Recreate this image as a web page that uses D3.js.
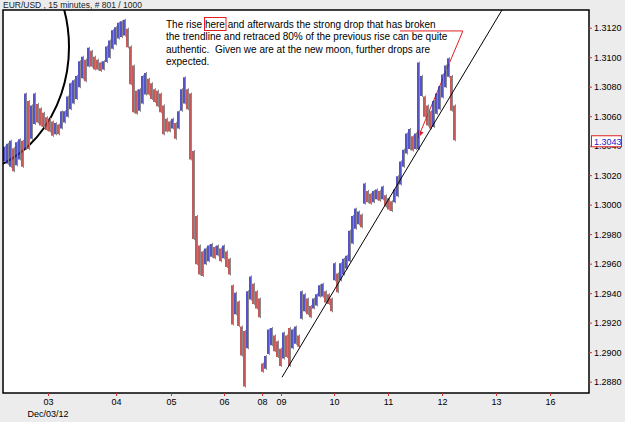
<!DOCTYPE html>
<html>
<head>
<meta charset="utf-8">
<script src="https://cdn.jsdelivr.net/npm/d3@7"></script>
<style>
body { margin: 0; background: #ececec; }
svg { display: block; font-family: "Liberation Sans", Arial, sans-serif; }
text { white-space: pre; }
</style>
</head>
<body>
<svg id="chart" width="625" height="422"></svg>
<script>
// EUR/USD 15 min, one slot = a handful of bars, high / low per slot
var hi = [1.3040, 1.3042, 1.3044, 1.3039, 1.3043, 1.3045, 1.3044, 1.3076, 1.3071, 1.3068,
          1.3076, 1.3069, 1.3066, 1.3063, 1.3060, 1.3059, 1.3057, 1.3056, 1.3055, 1.3064,
          1.3064, 1.3074, 1.3083, 1.3085, 1.3088, 1.3098, 1.3101, 1.3099, 1.3107, 1.3105,
          1.3101, 1.3099, 1.3097, 1.3098, 1.3108, 1.3112, 1.3119, 1.3121, 1.3124, 1.3125,
          1.3126, 1.3120, 1.3108, 1.3095, 1.3078, 1.3079, 1.3088, 1.3090, 1.3086, 1.3083,
          1.3079, 1.3078, 1.3076, 1.3068, 1.3059, 1.3057, 1.3059, 1.3056, 1.3064, 1.3079,
          1.3087, 1.3079, 1.3076, 1.3037, 1.2993, 1.2973, 1.2969, 1.2971, 1.2973, 1.2974,
          1.2972, 1.2973, 1.2971, 1.2973, 1.2969, 1.2964, 1.2946, 1.2941, 1.2935, 1.2918,
          1.2915, 1.2942, 1.2952, 1.2947, 1.2942, 1.2937, 1.2893, 1.2898, 1.2916, 1.2917,
          1.2912, 1.2908, 1.2903, 1.2914, 1.2912, 1.2917, 1.2916, 1.2918, 1.2912, 1.2942,
          1.2940, 1.2937, 1.2932, 1.2937, 1.2940, 1.2946, 1.2947, 1.2942, 1.2940, 1.2937,
          1.2961, 1.2954, 1.2961, 1.2964, 1.2966, 1.2983, 1.2993, 1.2998, 1.2996, 1.2994,
          1.3015, 1.3010, 1.3008, 1.3010, 1.3011, 1.3010, 1.3013, 1.3007, 1.3005, 1.3003,
          1.3011, 1.3020, 1.3030, 1.3038, 1.3049, 1.3052, 1.3047, 1.3049, 1.3097, 1.3088,
          1.3074, 1.3068, 1.3064, 1.3071, 1.3076, 1.3081, 1.3089, 1.3095, 1.3100, 1.3088,
          1.3068];
var lo = [1.3029, 1.3027, 1.3025, 1.3022, 1.3026, 1.3030, 1.3025, 1.3037, 1.3037, 1.3044,
          1.3054, 1.3055, 1.3053, 1.3052, 1.3050, 1.3049, 1.3046, 1.3047, 1.3047, 1.3051,
          1.3055, 1.3059, 1.3064, 1.3068, 1.3071, 1.3079, 1.3085, 1.3083, 1.3093, 1.3093,
          1.3091, 1.3091, 1.3090, 1.3091, 1.3096, 1.3099, 1.3105, 1.3108, 1.3112, 1.3113,
          1.3114, 1.3106, 1.3081, 1.3062, 1.3061, 1.3063, 1.3068, 1.3074, 1.3074, 1.3071,
          1.3069, 1.3066, 1.3062, 1.3047, 1.3049, 1.3049, 1.3051, 1.3044, 1.3051, 1.3063,
          1.3068, 1.3064, 1.3030, 1.2976, 1.2959, 1.2952, 1.2951, 1.2959, 1.2961, 1.2964,
          1.2963, 1.2965, 1.2961, 1.2963, 1.2957, 1.2952, 1.2918, 1.2925, 1.2917, 1.2897,
          1.2876, 1.2902, 1.2935, 1.2932, 1.2929, 1.2923, 1.2886, 1.2888, 1.2898, 1.2904,
          1.2900, 1.2896, 1.2890, 1.2895, 1.2896, 1.2890, 1.2902, 1.2905, 1.2903, 1.2922,
          1.2927, 1.2925, 1.2923, 1.2929, 1.2931, 1.2937, 1.2937, 1.2933, 1.2932, 1.2927,
          1.2948, 1.2940, 1.2948, 1.2952, 1.2956, 1.2961, 1.2973, 1.2983, 1.2986, 1.2984,
          1.3000, 1.3001, 1.3000, 1.3001, 1.3003, 1.3002, 1.3003, 1.2998, 1.2996, 1.2995,
          1.3001, 1.3005, 1.3013, 1.3025, 1.3034, 1.3037, 1.3036, 1.3037, 1.3037, 1.3073,
          1.3059, 1.3053, 1.3051, 1.3052, 1.3061, 1.3064, 1.3072, 1.3079, 1.3086, 1.3063,
          1.3043];

var dayLabels = ["03", "04", "05", "06", "08", "09", "10", "11", "12", "13", "16"];
var daySlots = [15, 37.67, 56, 73.67, 86.33, 92.67, 110.33, 128.33, 146.33, 164.33, 182.33];
var priceTicks = [1.2880, 1.2900, 1.2920, 1.2940, 1.2960, 1.2980, 1.3000,
                  1.3020, 1.3040, 1.3060, 1.3080, 1.3100, 1.3120];
var lastPrice = 1.3043;

// hand drawn bits
var trendPts = [[93, 1.2883], [166.33, 1.3132]];
var callout = [[132.3, 1.31178], [153.3, 1.31178], [138.3, 1.30452]];
var moon = { slot: -14.33, price: 1.31069, rSlot: 36.33, rPrice: 0.00861 };
var noteLines = ["The rise here and afterwards the strong drop that has broken",
                 "the trendline and retraced 80% of the previous rise can be quite",
                 "authentic.  Given we are at the new moon, further drops are",
                 "expected."];

var plotL = 3, plotR = 589, plotT = 10, plotB = 393;

var svg = d3.select("#chart");

var x = d3.scaleLinear().domain([0, (plotR - plotL) / 3]).range([plotL, plotR]);
var y = d3.scaleLinear().domain([1.28723, 1.3132]).range([plotB, plotT]);

svg.append("defs").append("clipPath").attr("id", "plot")
    .append("rect")
    .attr("x", plotL).attr("y", plotT)
    .attr("width", plotR - plotL).attr("height", plotB - plotT);

svg.append("rect")
    .attr("x", plotL).attr("y", plotT)
    .attr("width", plotR - plotL).attr("height", plotB - plotT)
    .attr("fill", "#ffffff");

var plot = svg.append("g").attr("clip-path", "url(#plot)");

// moon circle
plot.append("ellipse")
    .attr("cx", x(moon.slot)).attr("cy", y(moon.price))
    .attr("rx", x(moon.rSlot) - x(0))
    .attr("ry", y(1.30) - y(1.30 + moon.rPrice))
    .attr("fill", "none").attr("stroke", "#000").attr("stroke-width", 2);

// callout line (behind bars)
plot.append("polyline")
    .attr("points", callout.map(function (p) { return x(p[0]) + "," + y(p[1]); }).join(" "))
    .attr("fill", "none").attr("stroke", "#e02020").attr("stroke-width", 1);

var tip = callout[2], from = callout[1];
var ang = Math.atan2(y(tip[1]) - y(from[1]), x(tip[0]) - x(from[0]));
var ax = x(tip[0]), ay = y(tip[1]);
plot.append("path")
    .attr("d", "M" + ax + "," + ay +
        "L" + (ax - 8 * Math.cos(ang - 0.4)) + "," + (ay - 8 * Math.sin(ang - 0.4)) +
        "L" + (ax - 8 * Math.cos(ang + 0.4)) + "," + (ay - 8 * Math.sin(ang + 0.4)) + "Z")
    .attr("fill", "#e02020");

// bars
var bars = plot.append("g");
for (var i = 0; i < hi.length; i++) {
    var mid = (hi[i] + lo[i]) / 2;
    var prev = i > 0 ? (hi[i - 1] + lo[i - 1]) / 2 : mid;
    var cx = x(i + 0.5);
    bars.append("line")
        .attr("x1", cx + 1).attr("x2", cx + 1)
        .attr("y1", y(hi[i])).attr("y2", y(lo[i]))
        .attr("stroke", "#8a8a8a").attr("stroke-width", 1);
    bars.append("line")
        .attr("x1", cx - 0.5).attr("x2", cx - 0.5)
        .attr("y1", y(hi[i]) + 1).attr("y2", y(lo[i]) - 1)
        .attr("stroke", mid >= prev ? "#2a2ab8" : "#b83030")
        .attr("stroke-width", 1.6);
}

// trendline
plot.append("line")
    .attr("x1", x(trendPts[0][0])).attr("y1", y(trendPts[0][1]))
    .attr("x2", x(trendPts[1][0])).attr("y2", y(trendPts[1][1]))
    .attr("stroke", "#000").attr("stroke-width", 1);

// note text
var note = svg.append("g").attr("font-size", 10).attr("fill", "#000");
note.selectAll("text").data(noteLines).enter().append("text")
    .attr("x", 166)
    .attr("y", function (d, j) { return 28 + j * 12.4; })
    .text(function (d) { return d; });
svg.append("rect")
    .attr("x", 204.5).attr("y", 17.5).attr("width", 21.5).attr("height", 13)
    .attr("fill", "none").attr("stroke", "#e02020").attr("stroke-width", 1);

// frame
svg.append("rect")
    .attr("x", plotL).attr("y", plotT)
    .attr("width", plotR - plotL).attr("height", plotB - plotT)
    .attr("fill", "none").attr("stroke", "#000").attr("stroke-width", 1.5);

// y axis
var yAxis = svg.append("g")
    .attr("transform", "translate(" + plotR + ",0)")
    .call(d3.axisRight(y).tickValues(priceTicks).tickSize(3).tickPadding(2)
        .tickFormat(d3.format(".4f")));
yAxis.select(".domain").remove();
yAxis.selectAll(".tick line").attr("stroke", "#d03030");
yAxis.selectAll("text").attr("font-size", 9).attr("fill", "#000")
    .attr("font-family", "Liberation Sans, Arial, sans-serif");

// x axis
var xAxis = svg.append("g")
    .attr("transform", "translate(0," + plotB + ")")
    .call(d3.axisBottom(x).tickValues(daySlots).tickSize(3).tickPadding(3)
        .tickFormat(function (d, j) { return dayLabels[j]; }));
xAxis.select(".domain").remove();
xAxis.selectAll(".tick line").attr("stroke", "#d03030");
xAxis.selectAll("text").attr("font-size", 9).attr("fill", "#000")
    .attr("font-family", "Liberation Sans, Arial, sans-serif");

svg.append("text")
    .attr("x", x(daySlots[0])).attr("y", 417)
    .attr("text-anchor", "middle").attr("font-size", 9)
    .text("Dec/03/12");

// last price marker
var ly = y(lastPrice);
svg.append("rect")
    .attr("x", 591.5).attr("y", ly - 5.5).attr("width", 30).attr("height", 11)
    .attr("fill", "#fff").attr("stroke", "#e02020").attr("stroke-width", 1);
svg.append("text")
    .attr("x", 594).attr("y", ly + 3.5)
    .attr("font-size", 9).attr("fill", "#2020d0")
    .text(d3.format(".4f")(lastPrice));

// title
svg.append("text")
    .attr("x", 3).attr("y", 8)
    .attr("font-size", 8.5).attr("fill", "#222")
    .text("EUR/USD , 15 minutes, # 801 / 1000");
</script>
</body>
</html>
